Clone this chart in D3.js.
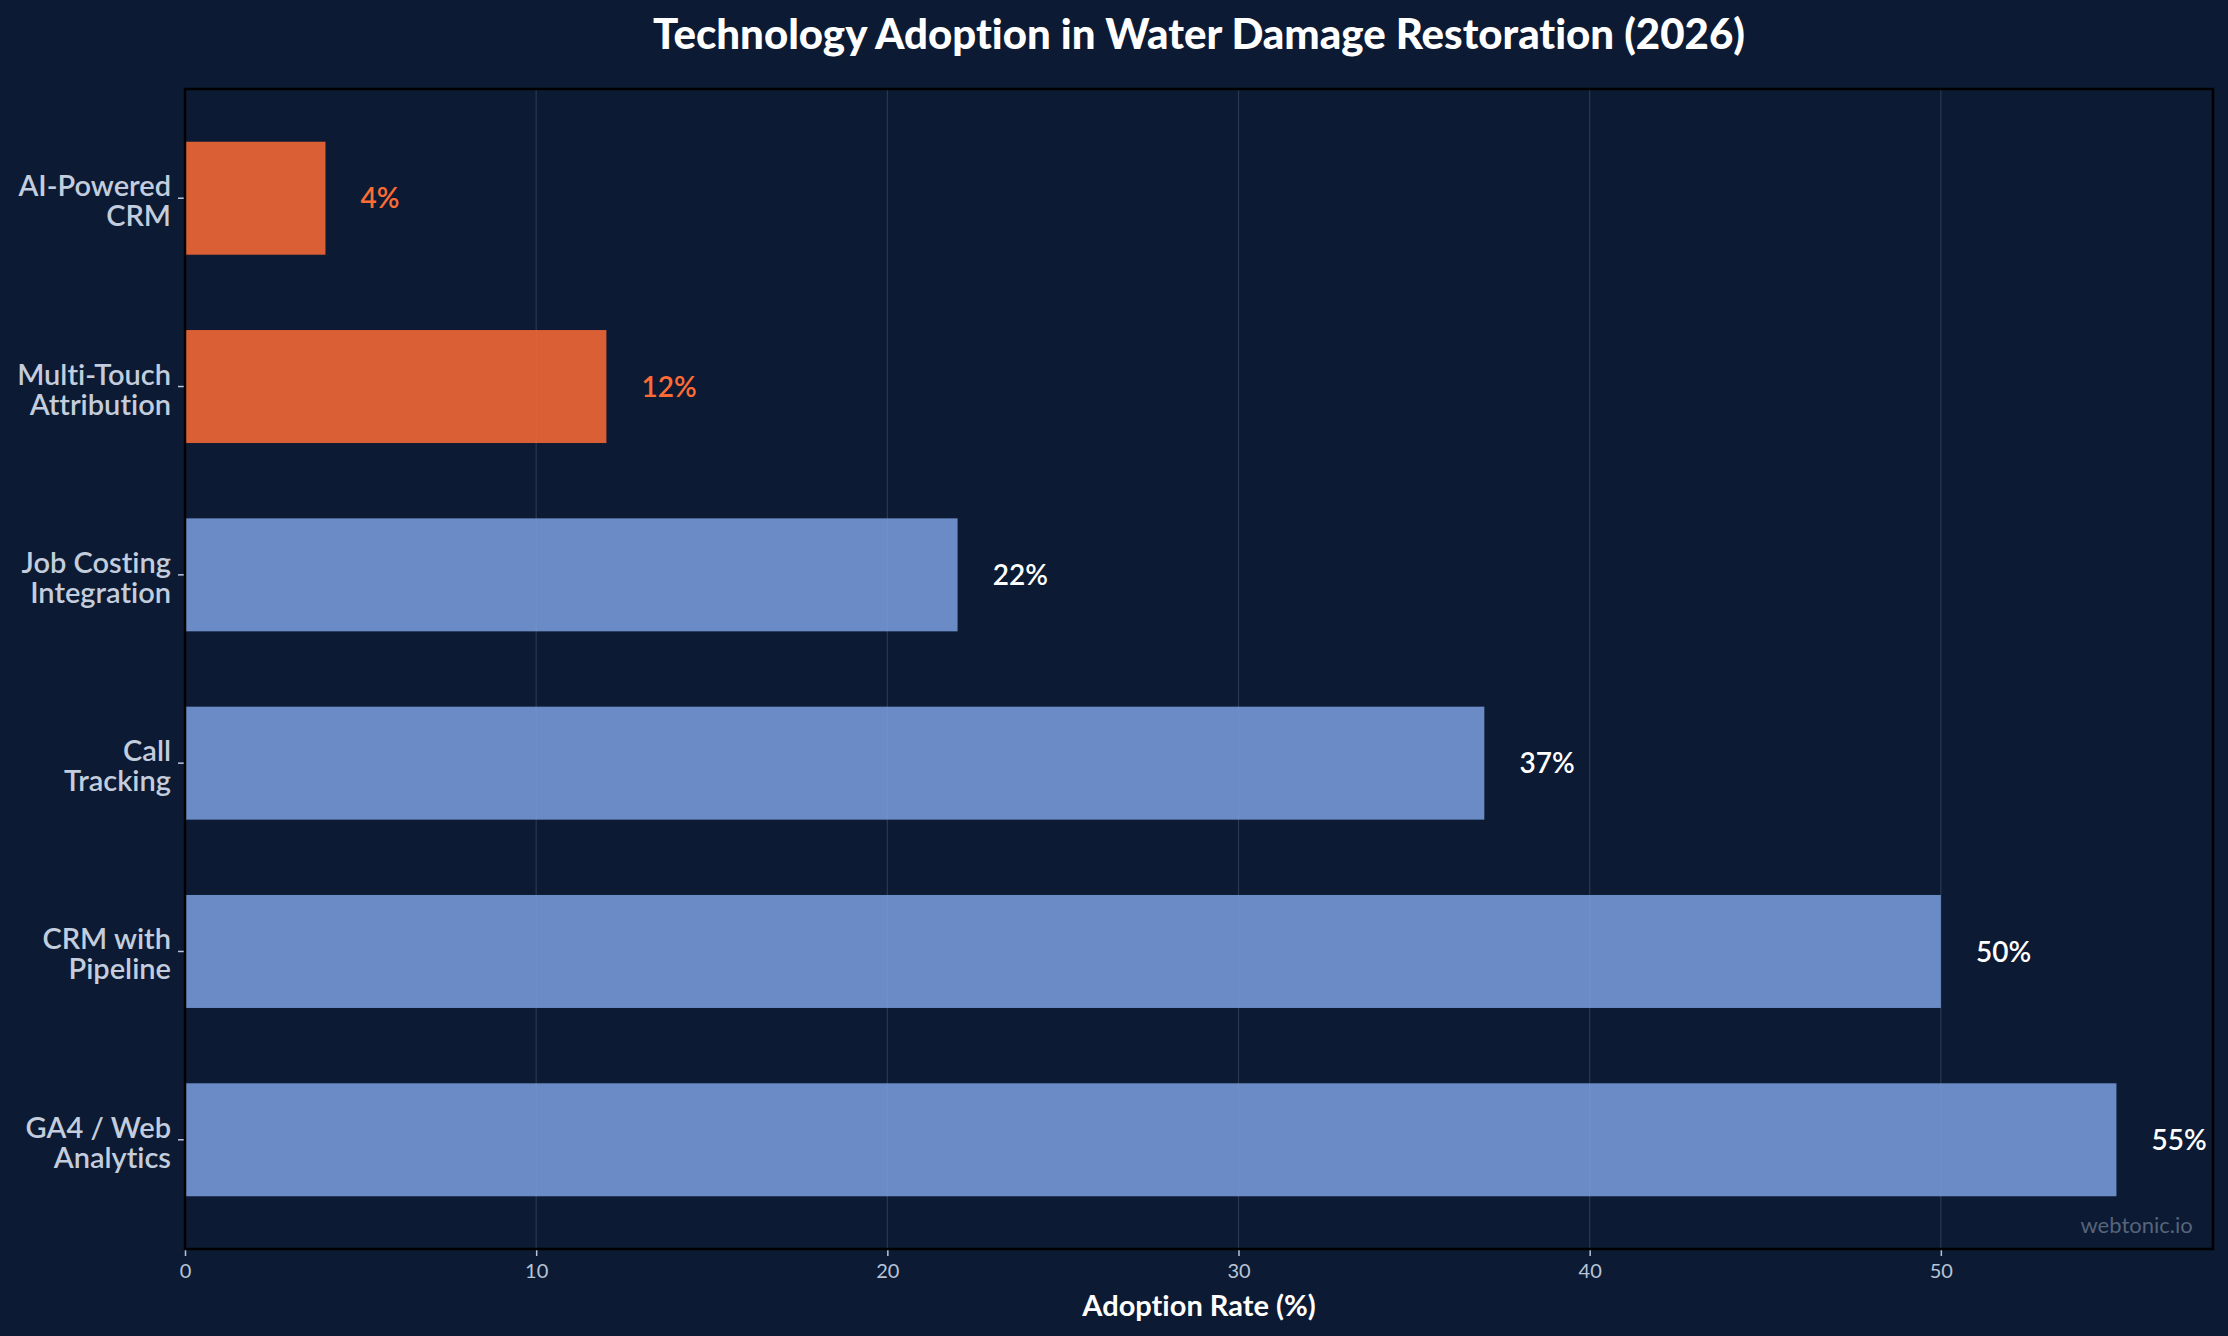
<!DOCTYPE html>
<html lang="en">
<head>
  <meta charset="UTF-8">
  <title>Technology Adoption</title>
  <script src="https://cdn.jsdelivr.net/npm/d3@7"></script>
  <style>
    html, body { margin: 0; padding: 0; background: #0c1b33; }
    svg { display: block; font-family: Lato, "Noto Sans", sans-serif;
          font-variant-ligatures: none; font-feature-settings: "liga" 0, "clig" 0; }
  </style>
</head>
<body>
  <script>
    // data, top to bottom
    const categories = [
      ['AI-Powered', 'CRM'],
      ['Multi-Touch', 'Attribution'],
      ['Job Costing', 'Integration'],
      ['Call', 'Tracking'],
      ['CRM with', 'Pipeline'],
      ['GA4 / Web', 'Analytics']
    ];
    const adoption = [4, 12, 22, 37, 50, 55];
    const highlighted = [true, true, false, false, false, false];
    const xTicks = [0, 10, 20, 30, 40, 50];

    const W = 2228, H = 1336;
    const m = {left: 185, right: 15, top: 89, bottom: 87};
    const iw = W - m.left - m.right, ih = H - m.top - m.bottom;

    const orange = '#ff6b35', blue = '#7b9fdf';

    const svg = d3.select('body').append('svg')
      .attr('width', W).attr('height', H);
    svg.append('rect').attr('width', W).attr('height', H).attr('fill', '#0c1b33');

    const g = svg.append('g').attr('transform', `translate(${m.left},${m.top})`);

    // x goes to max * 1.05, like the original
    const x = d3.scaleLinear().domain([0, d3.max(adoption) * 1.05]).range([0, iw]);
    // bar height 0.6 of a step, 0.05 margin on each side
    const idx = d3.range(adoption.length);
    const y = d3.scaleLinear().domain([-0.58, adoption.length - 1 + 0.58]).range([0, ih]);
    const barH = y(0.6) - y(0);

    // grid
    g.selectAll('line.grid').data(xTicks).join('line')
      .attr('class', 'grid')
      .attr('x1', d => x(d)).attr('x2', d => x(d))
      .attr('y1', 0).attr('y2', ih)
      .attr('stroke', '#ffffff').attr('stroke-opacity', 0.13).attr('stroke-width', 1.2);

    // bars
    g.selectAll('rect.bar').data(idx).join('rect')
      .attr('class', 'bar')
      .attr('x', x(0))
      .attr('y', i => y(i) - barH / 2)
      .attr('width', i => x(adoption[i]) - x(0))
      .attr('height', barH)
      .attr('fill', i => highlighted[i] ? orange : blue)
      .attr('fill-opacity', 0.85);

    // value labels
    g.selectAll('text.val').data(idx).join('text')
      .attr('class', 'val')
      .attr('x', i => x(adoption[i] + 1))
      .attr('y', i => y(i))
      .attr('dy', '0.36em')
      .attr('font-size', 28)
      .attr('font-weight', 600)
      .attr('fill', i => highlighted[i] ? orange : '#ffffff')
      .text(i => adoption[i] + '%');

    // x axis
    const xAxis = g.append('g').attr('transform', `translate(0,${ih})`)
      .call(d3.axisBottom(x).tickValues(xTicks).tickSize(7).tickPadding(8));
    xAxis.select('.domain').remove();
    xAxis.selectAll('.tick line').attr('stroke', '#b8c4d6').attr('stroke-width', 1.5);
    xAxis.selectAll('.tick text').attr('fill', '#b8c4d6').attr('font-size', 20)
      .attr('font-family', 'Lato, sans-serif');

    // y ticks and two-line labels, one text per line
    const yt = g.selectAll('g.ytick').data(idx).join('g')
      .attr('class', 'ytick')
      .attr('transform', i => `translate(0,${y(i)})`);
    yt.append('line').attr('x1', -7).attr('x2', 0)
      .attr('stroke', '#b8c4d6').attr('stroke-width', 1.5);
    yt.selectAll('text').data(i => categories[i]).join('text')
      .attr('x', -14).attr('text-anchor', 'end')
      .attr('y', (d, k) => k === 0 ? -2 : 28)
      .attr('font-size', 29).attr('font-weight', 600).attr('fill', '#c3cddd')
      .text(d => d);

    // frame
    g.append('rect').attr('width', iw).attr('height', ih)
      .attr('fill', 'none').attr('stroke', '#000000').attr('stroke-width', 2.5);

    // title
    svg.append('text')
      .attr('x', m.left + iw / 2).attr('y', 49)
      .attr('text-anchor', 'middle')
      .attr('font-size', 42).attr('font-weight', 900).attr('fill', '#ffffff')
      .text('Technology Adoption in Water Damage Restoration (2026)');

    // x label
    svg.append('text')
      .attr('x', m.left + iw / 2).attr('y', 1316)
      .attr('text-anchor', 'middle')
      .attr('font-size', 29).attr('font-weight', 700).attr('fill', '#ffffff')
      .text('Adoption Rate (%)');

    // watermark
    g.append('text')
      .attr('x', iw * 0.99).attr('y', ih - 16)
      .attr('text-anchor', 'end')
      .attr('font-size', 22).attr('fill', '#8a97ab').attr('fill-opacity', 0.6)
      .text('webtonic.io');
  </script>
</body>
</html>
